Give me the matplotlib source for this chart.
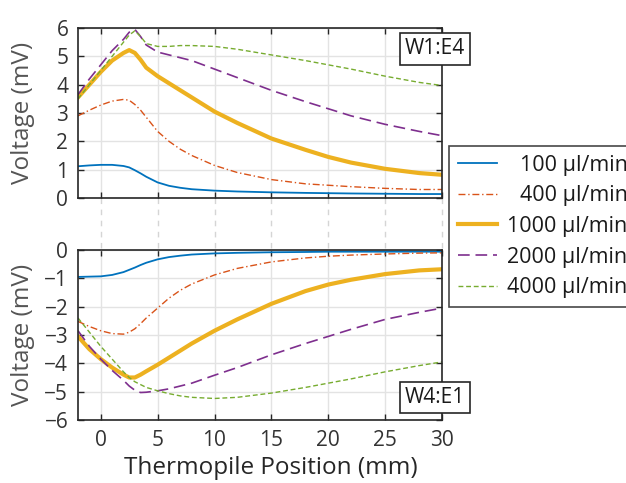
import matplotlib
matplotlib.use("Agg")
import matplotlib.pyplot as plt
import matplotlib.transforms as mtransforms

plt.rcParams['font.family'] = ['Open Sans', 'DejaVu Sans']

x = [-2, -1, 0, 1, 2, 2.5, 3, 3.5, 4, 5, 6, 7, 8, 10, 12, 15, 18, 20, 22, 25, 28, 30]

labels = ["100 µl/min", "400 µl/min", "1000 µl/min", "2000 µl/min", "4000 µl/min"]

# Top panel: W1:E4
top_100 = [1.12, 1.15, 1.17, 1.17, 1.13, 1.08, 0.98, 0.87, 0.75, 0.55, 0.43, 0.36, 0.31, 0.26, 0.23, 0.20, 0.18, 0.17, 0.16, 0.15, 0.14, 0.14]
top_400 = [2.90, 3.10, 3.28, 3.42, 3.48, 3.45, 3.30, 3.10, 2.85, 2.35, 2.00, 1.72, 1.50, 1.15, 0.90, 0.65, 0.50, 0.45, 0.40, 0.34, 0.30, 0.30]
top_1000 = [3.55, 4.00, 4.45, 4.85, 5.12, 5.22, 5.12, 4.88, 4.60, 4.30, 4.05, 3.80, 3.55, 3.05, 2.65, 2.10, 1.70, 1.45, 1.25, 1.03, 0.88, 0.82]
top_2000 = [3.65, 4.20, 4.70, 5.20, 5.60, 5.85, 5.95, 5.70, 5.40, 5.15, 5.05, 4.95, 4.85, 4.55, 4.25, 3.80, 3.40, 3.15, 2.90, 2.60, 2.35, 2.20]
top_4000 = [3.50, 4.00, 4.50, 5.00, 5.50, 5.75, 5.90, 5.70, 5.45, 5.35, 5.35, 5.38, 5.38, 5.35, 5.25, 5.05, 4.85, 4.70, 4.55, 4.30, 4.08, 3.97]

# Bottom panel: W4:E1
bot_100 = [-0.95, -0.94, -0.93, -0.88, -0.78, -0.70, -0.62, -0.53, -0.45, -0.33, -0.25, -0.20, -0.16, -0.12, -0.10, -0.08, -0.07, -0.06, -0.06, -0.06, -0.06, -0.06]
bot_400 = [-2.52, -2.70, -2.85, -2.95, -2.97, -2.90, -2.78, -2.60, -2.40, -2.05, -1.70, -1.42, -1.20, -0.88, -0.65, -0.42, -0.28, -0.22, -0.18, -0.14, -0.11, -0.10]
bot_1000 = [-3.05, -3.50, -3.85, -4.15, -4.40, -4.50, -4.50, -4.40, -4.28, -4.05, -3.80, -3.55, -3.30, -2.85, -2.45, -1.90, -1.45, -1.22, -1.05, -0.85, -0.72, -0.68]
bot_2000 = [-2.85, -3.40, -3.85, -4.25, -4.60, -4.80, -4.95, -5.03, -5.02, -4.97, -4.90, -4.80, -4.70, -4.42, -4.15, -3.70, -3.30, -3.05, -2.80, -2.45, -2.20, -2.05]
bot_4000 = [-2.40, -2.90, -3.40, -3.85, -4.30, -4.50, -4.65, -4.75, -4.85, -4.97, -5.07, -5.15, -5.20, -5.24, -5.20, -5.05, -4.85, -4.70, -4.55, -4.30, -4.08, -3.95]

xticks = [0, 5, 10, 15, 20, 25, 30]
top_yticks = [0, 1, 2, 3, 4, 5, 6]
bot_yticks = [-6, -5, -4, -3, -2, -1, 0]

colors = ['#0072BD', '#D95319', '#EDB120', '#7E2F8E', '#77AC30']
styles = [
    dict(lw=1.3, ls='-'),
    dict(lw=1.0, dashes=(5, 2, 1, 2)),
    dict(lw=3.0, ls='-'),
    dict(lw=1.2, dashes=(7, 3.5)),
    dict(lw=1.0, dashes=(3.5, 2)),
]

fs = 15
lfs = 17.5
axcol = '#262626'

fig = plt.figure(figsize=(6.26, 4.83), dpi=100)
ax1 = fig.add_axes([78/626, 1-198/483, 364/626, 170/483])
ax2 = fig.add_axes([78/626, 1-420/483, 364/626, 170/483])

tops = [top_100, top_400, top_1000, top_2000, top_4000]
bots = [bot_100, bot_400, bot_1000, bot_2000, bot_4000]

handles = []
for i in range(5):
    h, = ax1.plot(x, tops[i], color=colors[i], label=labels[i], **styles[i])
    ax2.plot(x, bots[i], color=colors[i], **styles[i])
    handles.append(h)

for ax, yt in [(ax1, top_yticks), (ax2, bot_yticks)]:
    ax.set_xlim(-2, 30)
    ax.set_ylim(min(yt), max(yt))
    ax.set_xticks(xticks)
    ax.set_yticks(yt)
    ax.grid(True, color='#e3e3e3', lw=1.0)
    ax.set_axisbelow(True)
    for s in ax.spines.values():
        s.set_color(axcol)
        s.set_linewidth(1.2)
    ax.tick_params(direction='in', length=4, width=1.0, color=axcol,
                   top=True, right=True, labelsize=fs, labelcolor='#333333', pad=7)
    ax.set_ylabel('Voltage (mV)', fontsize=lfs, color='#555555')
    ax.yaxis.set_label_coords(-(78-35)/364, 0.5)

ax1.tick_params(labelbottom=False)
ax2.set_xlabel('Thermopile Position (mm)', fontsize=lfs, color=axcol)
ax2.xaxis.set_label_coords((271-78)/364, -(456-420)/170)

# dashed x-grid continuation between the panels
trans = mtransforms.blended_transform_factory(ax1.transData, ax1.transAxes)
for xv in xticks:
    ax1.plot([xv, xv], [0, -50/170], transform=trans, clip_on=False,
             color='#d5d5d5', lw=1.0, dashes=(4, 4), zorder=0)

bbox = dict(boxstyle='square,pad=0.25', fc='white', ec=axcol, lw=1.2)
ax1.text((435-78)/364, 1-(49-28)/170, 'W1:E4', transform=ax1.transAxes,
         ha='center', va='center', fontsize=fs, color='#1a1a1a', bbox=bbox, clip_on=False, zorder=10)
ax2.text((435-78)/364, 1-(397.5-250)/170, 'W4:E1', transform=ax2.transAxes,
         ha='center', va='center', fontsize=fs, color='#1a1a1a', bbox=bbox, clip_on=False, zorder=10)

leg = fig.legend(handles=handles, labels=labels, loc='upper left',
                 bbox_to_anchor=(449/626, 1-146/483), fontsize=15.5,
                 frameon=True, fancybox=False, edgecolor='#1a1a1a',
                 handlelength=1.85, handletextpad=0.45, labelspacing=0.45,
                 borderpad=0.4, borderaxespad=0)
leg.get_frame().set_linewidth(1.2)
for t in leg.get_texts():
    t.set_color('#1a1a1a')

fig.canvas.draw()
renderer = fig.canvas.get_renderer()
widths = [t.get_window_extent(renderer).width for t in leg.get_texts()]
maxw = max(widths)
for t, w in zip(leg.get_texts(), widths):
    t.set_position((maxw - w, 0))

fig.savefig('out.png', dpi=100)
